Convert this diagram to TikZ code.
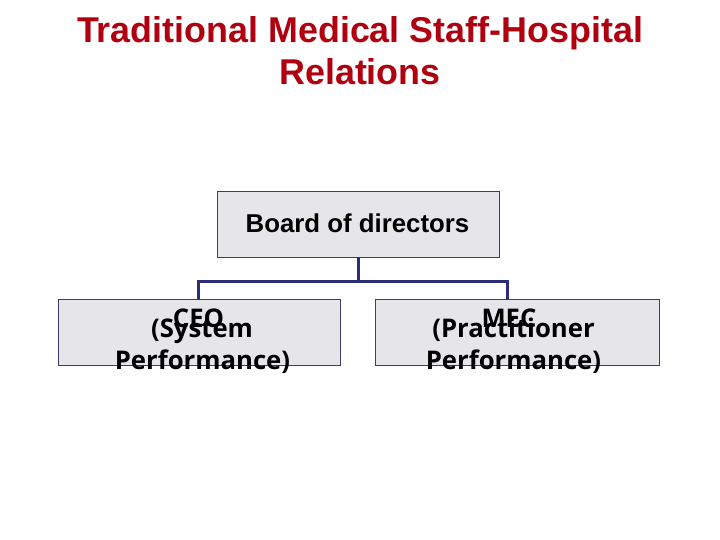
\documentclass[tikz,border=0pt]{standalone}
\usepackage{fontspec}
\setmainfont{Liberation Sans}
\newfontfamily\boxfont{Open Sans}
\definecolor{titlered}{RGB}{176,0,16}
\definecolor{linknavy}{RGB}{44,44,120}
\definecolor{boxgray}{RGB}{230,230,234}
\definecolor{boxline}{RGB}{60,60,110}
\begin{document}
\begin{tikzpicture}[x=1bp,y=-1bp,
  box/.style={draw=boxline,line width=0.8bp,fill=boxgray,inner sep=0pt},
  link/.style={draw=linknavy,line width=3bp},
  role/.style={font=\boxfont\bfseries\fontsize{25.8}{25.8}\selectfont,inner sep=0pt,anchor=base}]
  \useasboundingbox (0,0) rectangle (720,540);

  % Title
  \node[titlered,font=\bfseries\fontsize{36}{36}\selectfont,anchor=base] (title1) at (360,43) {Traditional Medical Staff-Hospital};
  \node[titlered,font=\bfseries\fontsize{36}{36}\selectfont,anchor=base] (title2) at (360,85) {Relations};

  % Boxes
  \node[box,minimum width=282bp,minimum height=66bp] (board) at (358,224) {};
  \node[box,minimum width=282bp,minimum height=66bp] (ceo) at (199,332) {};
  \node[box,minimum width=284bp,minimum height=66bp] (mec) at (517,332) {};

  % Connectors
  \coordinate (lj) at (198,299);
  \coordinate (rj) at (507,299);
  \draw[link] (board.south) -- ++(0,24) coordinate (hub);
  \draw[link] (lj) |- (hub) -| (rj);

  % Labels
  \node[font=\bfseries\fontsize{25.9}{25.9}\selectfont,anchor=base] (boardtxt) at (357.5,233) {Board of directors};
  \node[role] (ceo1) at (198.5,327) {CEO};
  \node[role] (ceo2) at (202,337) {(System};
  \node[role] (ceo3) at (202.5,369) {Performance)};
  \node[role] (mec1) at (509,327) {MEC};
  \node[role] (mec2) at (513.5,337) {(Practitioner};
  \node[role] (mec3) at (513.5,369) {Performance)};
\end{tikzpicture}
\end{document}
